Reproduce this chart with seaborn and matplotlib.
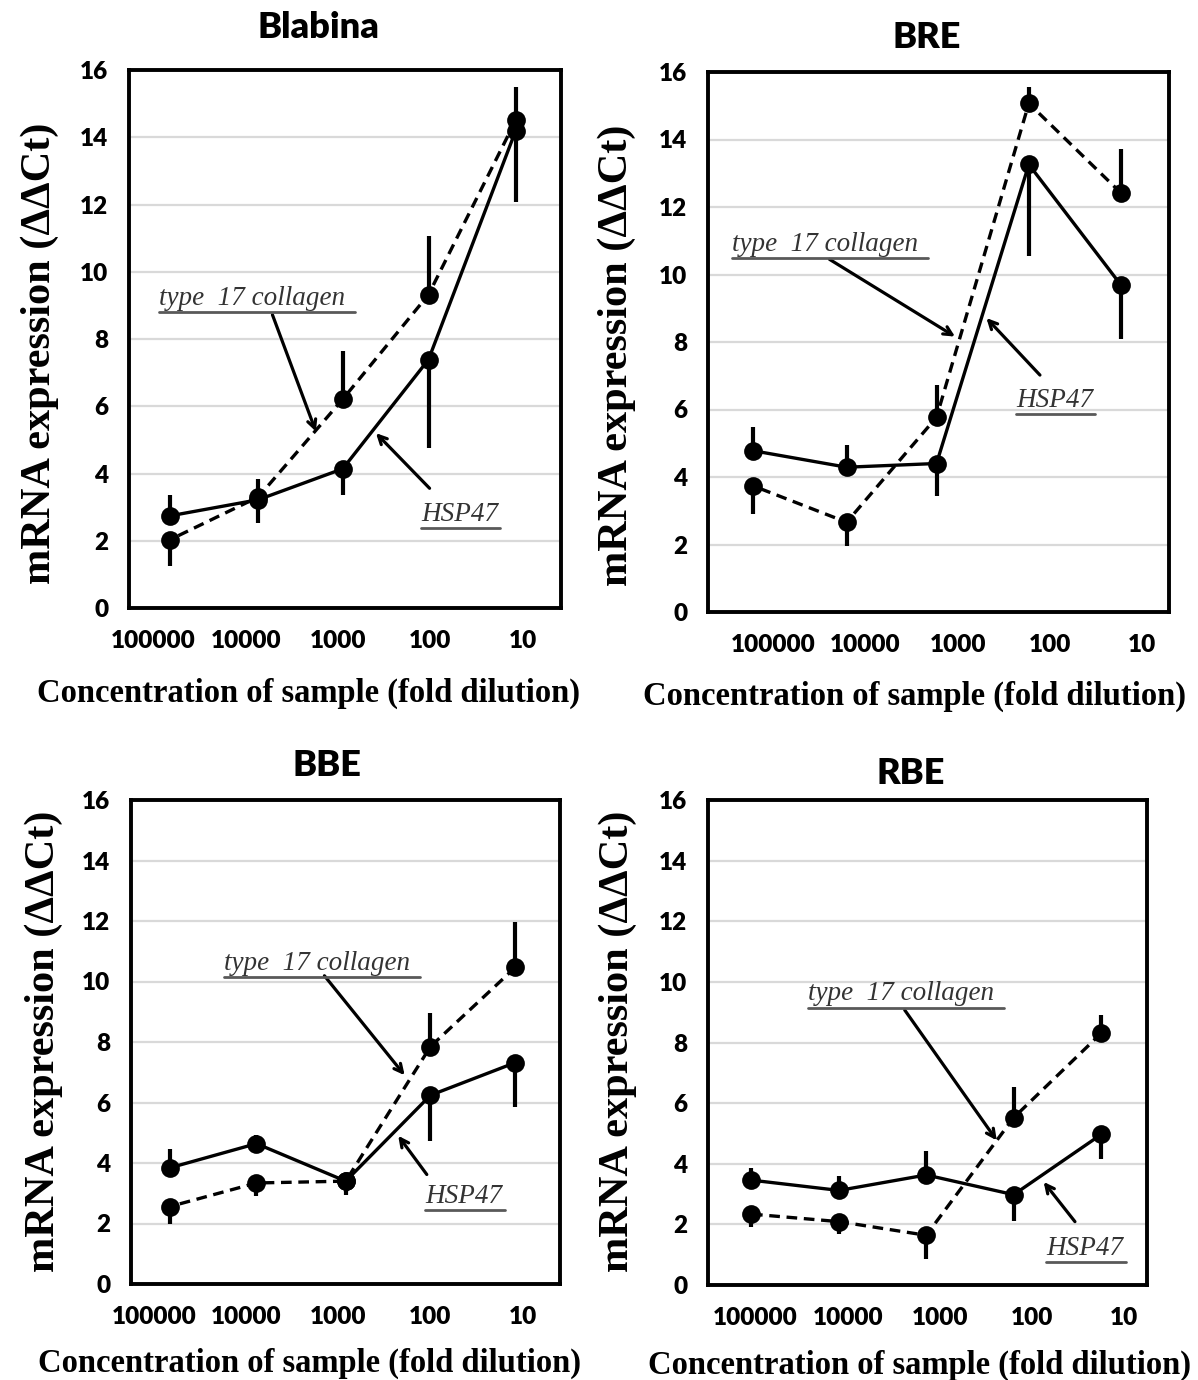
import numpy as np
import pandas as pd
import matplotlib
matplotlib.use("Agg")
import matplotlib.pyplot as plt
from matplotlib.lines import Line2D
from matplotlib.ticker import NullLocator
from matplotlib.transforms import IdentityTransform
import seaborn as sns

# ---------------------------------------------------------------------------
# Data: fold dilution of each sample and mRNA expression (ddCt) per gene.
# Error values are one-sided: positive = bar drawn upward, negative = downward.
# ---------------------------------------------------------------------------
BLABINA_DIL = [66000, 7300, 890, 105, 12]
BLABINA_HSP47 = [2.74, 3.22, 4.14, 7.39, 14.19]
BLABINA_HSP47_ERR = [0.61, 0.61, -0.79, -2.64, -2.12]
BLABINA_COL17 = [2.03, 3.30, 6.21, 9.32, 14.50]
BLABINA_COL17_ERR = [-0.79, -0.77, 1.42, 1.75, 0.99]

BRE_DIL = [166000, 16000, 1700, 170, 17]
BRE_HSP47 = [4.78, 4.29, 4.40, 13.26, 9.68]
BRE_HSP47_ERR = [0.69, 0.67, -0.95, -2.70, -1.60]
BRE_COL17 = [3.74, 2.66, 5.77, 15.07, 12.41]
BRE_COL17_ERR = [-0.84, -0.69, 0.95, 0.49, 1.32]

BBE_DIL = [67000, 7700, 830, 100, 12]
BBE_HSP47 = [3.84, 4.64, 3.40, 6.24, 7.32]
BBE_HSP47_ERR = [0.61, 0.30, -0.45, -1.51, -1.47]
BBE_COL17 = [2.56, 3.34, 3.40, 7.85, 10.47]
BBE_COL17_ERR = [-0.56, -0.44, -0.35, 1.11, 1.50]

RBE_DIL = [112000, 12400, 1400, 157, 17.5]
RBE_HSP47 = [3.46, 3.12, 3.63, 2.98, 4.97]
RBE_HSP47_ERR = [0.39, 0.48, 0.78, -0.86, -0.81]
RBE_COL17 = [2.34, 2.09, 1.64, 5.52, 8.31]
RBE_COL17_ERR = [-0.44, -0.42, -0.78, 1.01, 0.59]

X_TICKS = [100000, 10000, 1000, 100, 10]
X_TICK_LABELS = ["100000", "10000", "1000", "100", "10"]
Y_TICKS = [0, 2, 4, 6, 8, 10, 12, 14, 16]

GENES = ["HSP47", "type 17 collagen"]
X_LABEL = "Concentration of sample (fold dilution)"
Y_LABEL = "mRNA expression (ΔΔCt)"

# ---------------------------------------------------------------------------
# Layout (pixel boxes) and label / arrow placement per panel
# ---------------------------------------------------------------------------
W, H = 1198, 1380
PANELS = [
    dict(title="Blabina", dil=BLABINA_DIL, hsp=BLABINA_HSP47, hsp_err=BLABINA_HSP47_ERR,
         col=BLABINA_COL17, col_err=BLABINA_COL17_ERR,
         box=(129, 70, 561, 608), xlog=(5.262, 0.588), title_xy=(318, 28),
         ylab_x=-0.207, ylab_y=0.474, xlab_xy=(308, 693),
         col_txt=(4.94, 9.2), col_arrow=((3.71, 8.72), (3.24, 5.25)),
         hsp_txt=(2.10, 2.77), hsp_arrow=((2.01, 3.56), (2.59, 5.2))),
    dict(title="BRE", dil=BRE_DIL, hsp=BRE_HSP47, hsp_err=BRE_HSP47_ERR,
         col=BRE_COL17, col_err=BRE_COL17_ERR,
         box=(708, 72, 1169, 612), xlog=(5.706, 0.712), title_xy=(927, 38),
         ylab_x=-0.198, ylab_y=0.476, xlab_xy=(915, 696),
         col_txt=(5.445, 10.88), col_arrow=((4.39, 10.45), (3.03, 8.16)),
         hsp_txt=(2.37, 6.28), hsp_arrow=((2.11, 7.02), (2.69, 8.71))),
    dict(title="BBE", dil=BBE_DIL, hsp=BBE_HSP47, hsp_err=BBE_HSP47_ERR,
         col=BBE_COL17, col_err=BBE_COL17_ERR,
         box=(131, 800, 560, 1284), xlog=(5.247, 0.596), title_xy=(327, 766),
         ylab_x=-0.204, ylab_y=0.502, xlab_xy=(310, 1363),
         col_txt=(4.24, 10.58), col_arrow=((3.15, 10.19), (2.28, 6.9)),
         hsp_txt=(2.055, 2.9), hsp_arrow=((2.04, 3.62), (2.35, 4.9))),
    dict(title="RBE", dil=RBE_DIL, hsp=RBE_HSP47, hsp_err=RBE_HSP47_ERR,
         col=RBE_COL17, col_err=RBE_COL17_ERR,
         box=(708, 800, 1147, 1285), xlog=(5.518, 0.747), title_xy=(911, 773),
         ylab_x=-0.206, ylab_y=0.503, xlab_xy=(920, 1365),
         col_txt=(4.43, 9.6), col_arrow=((3.38, 9.07), (2.38, 4.77)),
         hsp_txt=(1.84, 1.19), hsp_arrow=((1.53, 2.09), (1.87, 3.4))),
]

sns.set_theme(style="white")
plt.rcParams["font.family"] = ["Lato", "DejaVu Sans"]
SERIF = ["Liberation Serif", "DejaVu Serif"]

fig = plt.figure(figsize=(W / 100, H / 100), dpi=100)
underlined = []


def one_sided(err):
    err = np.asarray(err, dtype=float)
    return [np.where(err < 0, -err, 0.0), np.where(err > 0, err, 0.0)]


for p in PANELS:
    left, top, right, bottom = p["box"]
    ax = fig.add_axes([left / W, 1 - bottom / H, (right - left) / W, (bottom - top) / H])
    ax.set_xscale("log")

    df = pd.DataFrame({
        "dilution": list(p["dil"]) * 2,
        "expression": list(p["hsp"]) + list(p["col"]),
        "gene": [GENES[0]] * len(p["dil"]) + [GENES[1]] * len(p["dil"]),
    })
    sns.lineplot(data=df, x="dilution", y="expression", style="gene", style_order=GENES,
                 dashes={GENES[0]: "", GENES[1]: (3.2, 2.0)},
                 markers={GENES[0]: "o", GENES[1]: "o"},
                 color="black", linewidth=2.4, markersize=13.5, markeredgewidth=0,
                 estimator=None, legend=False, ax=ax, zorder=3)

    for vals, err in ((p["hsp"], p["hsp_err"]), (p["col"], p["col_err"])):
        ax.errorbar(p["dil"], vals, yerr=one_sided(err), fmt="none",
                    ecolor="black", elinewidth=3.0, capsize=0, zorder=4)

    ax.set_xlim(10 ** p["xlog"][0], 10 ** p["xlog"][1])
    ax.set_ylim(0, 16)
    ax.set_xticks(X_TICKS)
    ax.set_xticklabels(X_TICK_LABELS)
    ax.xaxis.set_minor_locator(NullLocator())
    ax.set_yticks(Y_TICKS)
    ax.tick_params(axis="both", length=0, labelsize=17.5, colors="black")
    ax.tick_params(axis="x", pad=16)
    ax.tick_params(axis="y", pad=15)
    for lab in ax.get_xticklabels() + ax.get_yticklabels():
        lab.set_fontweight("heavy")

    ax.yaxis.grid(True, color="#d9d9d9", linewidth=1.6)
    ax.xaxis.grid(False)
    ax.set_axisbelow(True)
    for sp in ax.spines.values():
        sp.set_visible(True)
        sp.set_color("black")
        sp.set_linewidth(2.8)

    ax.set_xlabel("")
    ax.set_ylabel(Y_LABEL, family=SERIF, fontweight="bold", fontsize=30.5, color="black")
    ax.yaxis.set_label_coords(p["ylab_x"], p["ylab_y"])
    ax.yaxis.label.set_va("center")

    fig.text(p["xlab_xy"][0] / W, 1 - p["xlab_xy"][1] / H, X_LABEL, family=SERIF,
             fontweight="bold", fontsize=23.5, ha="center", va="center", color="black")
    fig.text(p["title_xy"][0] / W, 1 - p["title_xy"][1] / H, p["title"],
             fontweight="heavy", fontsize=26, ha="center", va="center", color="black")

    # gene call-outs with arrows
    for txt, pos, arrow, ext in ((GENES[1], p["col_txt"], p["col_arrow"], 10),
                                 (GENES[0], p["hsp_txt"], p["hsp_arrow"], 2)):
        label = txt.replace(" 17", "  17")
        t = ax.text(10 ** pos[0], pos[1], label, family=SERIF, style="italic",
                    fontsize=19.5, color="#333333", ha="left", va="center", zorder=5)
        underlined.append((t, ext))
        (x0, y0), (x1, y1) = arrow
        ax.annotate("", xy=(10 ** x1, y1), xytext=(10 ** x0, y0),
                    arrowprops=dict(arrowstyle="->,head_length=0.5,head_width=0.25",
                                    color="black", lw=2.3, shrinkA=0, shrinkB=0),
                    zorder=5)

# underline the gene call-outs
fig.canvas.draw()
renderer = fig.canvas.get_renderer()
for t, ext in underlined:
    bb = t.get_window_extent(renderer)
    fig.add_artist(Line2D([bb.x0, bb.x1 + ext], [bb.y0 - 1, bb.y0 - 1],
                          transform=IdentityTransform(), color="#595959", lw=2.0))

fig.savefig("out.png", dpi=100, facecolor="white")
